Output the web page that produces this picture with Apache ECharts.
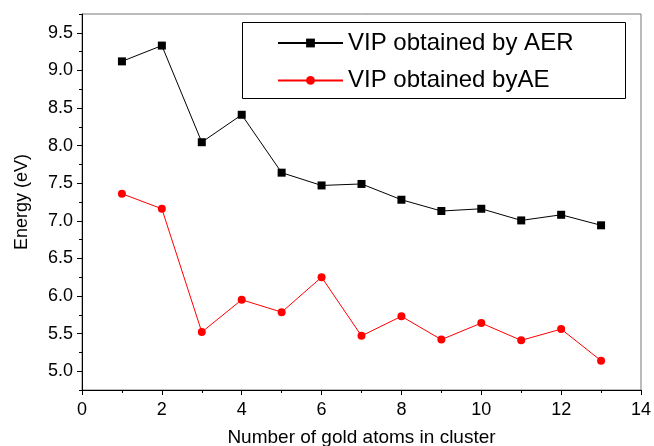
<!DOCTYPE html>
<html>
<head>
<meta charset="utf-8">
<script src="https://cdn.jsdelivr.net/npm/echarts@6/dist/echarts.min.js"></script>
<style>html,body{margin:0;padding:0;background:#fff}#c{width:654px;height:446px}</style>
</head>
<body>
<div id="c"></div>
<script>
const atoms = [1,2,3,4,5,6,7,8,9,10,11,12,13];
const vipAER = [9.12,9.33,8.045,8.41,7.64,7.47,7.49,7.28,7.13,7.16,7.005,7.08,6.94];
const vipAE = [7.36,7.16,5.52,5.95,5.785,6.25,5.47,5.73,5.42,5.64,5.41,5.56,5.14];
const yMajor = [5.0,5.5,6.0,6.5,7.0,7.5,8.0,8.5,9.0,9.5];
const yMinor = [4.75,5.25,5.75,6.25,6.75,7.25,7.75,8.25,8.75,9.25,9.75];
const seriesNames = ['VIP obtained by AER','VIP obtained byAE'];

const FONT = '"Liberation Sans", Arial, Helvetica, sans-serif';
const chart = echarts.init(document.getElementById('c'), null, {renderer:'canvas'});
chart.setOption({
  animation:false,
  backgroundColor:'#fff',
  grid:{left:82, top:14, right:13, bottom:56, show:true, borderColor:'#777', borderWidth:1,
    backgroundColor:'transparent', containLabel:false, outerBoundsMode:'none'},
  graphic:[{type:'rect', shape:{x:242.5, y:22.5, width:383, height:76}, style:{fill:'#fff', stroke:'#000', lineWidth:1}, z:50}],
  legend:{
    orient:'vertical', left:277, top:30, padding:0, itemGap:11.4,
    itemWidth:65, itemHeight:11, z:60,
    textStyle:{fontFamily:FONT, fontSize:24, color:'#000', lineHeight:26},
    data:seriesNames
  },
  xAxis:{
    type:'value', min:0, max:14, interval:2,
    name:'Number of gold atoms in cluster', nameLocation:'middle', nameGap:38,
    nameTextStyle:{fontFamily:FONT, fontSize:19, color:'#000'},
    axisLine:{lineStyle:{color:'#000', width:1}},
    axisTick:{show:true, length:5, lineStyle:{color:'#000'}},
    minorTick:{show:true, splitNumber:2, length:3, lineStyle:{color:'#000'}},
    axisLabel:{fontFamily:FONT, fontSize:18, color:'#000', margin:11},
    splitLine:{show:false}
  },
  yAxis:[{
    type:'value', min:4.75, max:9.75,
    name:'Energy (eV)', nameLocation:'middle', nameGap:51,
    nameTextStyle:{fontFamily:FONT, fontSize:18, color:'#000'},
    axisLine:{show:true, lineStyle:{color:'#000', width:1}},
    axisTick:{show:true, length:5, customValues:yMajor, lineStyle:{color:'#000'}},
    axisLabel:{fontFamily:FONT, fontSize:18, color:'#000', margin:9, customValues:yMajor,
      formatter:v=>v.toFixed(1)},
    splitLine:{show:false}
  },{
    type:'value', min:4.75, max:9.75, position:'left',
    axisLine:{show:false},
    axisTick:{show:true, length:3, customValues:yMinor, lineStyle:{color:'#000'}},
    axisLabel:{show:false},
    splitLine:{show:false}
  }],
  series:[{
    name:seriesNames[0], type:'line', yAxisIndex:0,
    data:atoms.map((a,i)=>[a,vipAER[i]]),
    symbol:'rect', symbolSize:8,
    itemStyle:{color:'#000'}, lineStyle:{color:'#000', width:1}
  },{
    name:seriesNames[1], type:'line', yAxisIndex:0,
    data:atoms.map((a,i)=>[a,vipAE[i]]),
    symbol:'circle', symbolSize:8,
    itemStyle:{color:'#ff0000'}, lineStyle:{color:'#ff0000', width:1}
  }]
});
</script>
</body>
</html>
